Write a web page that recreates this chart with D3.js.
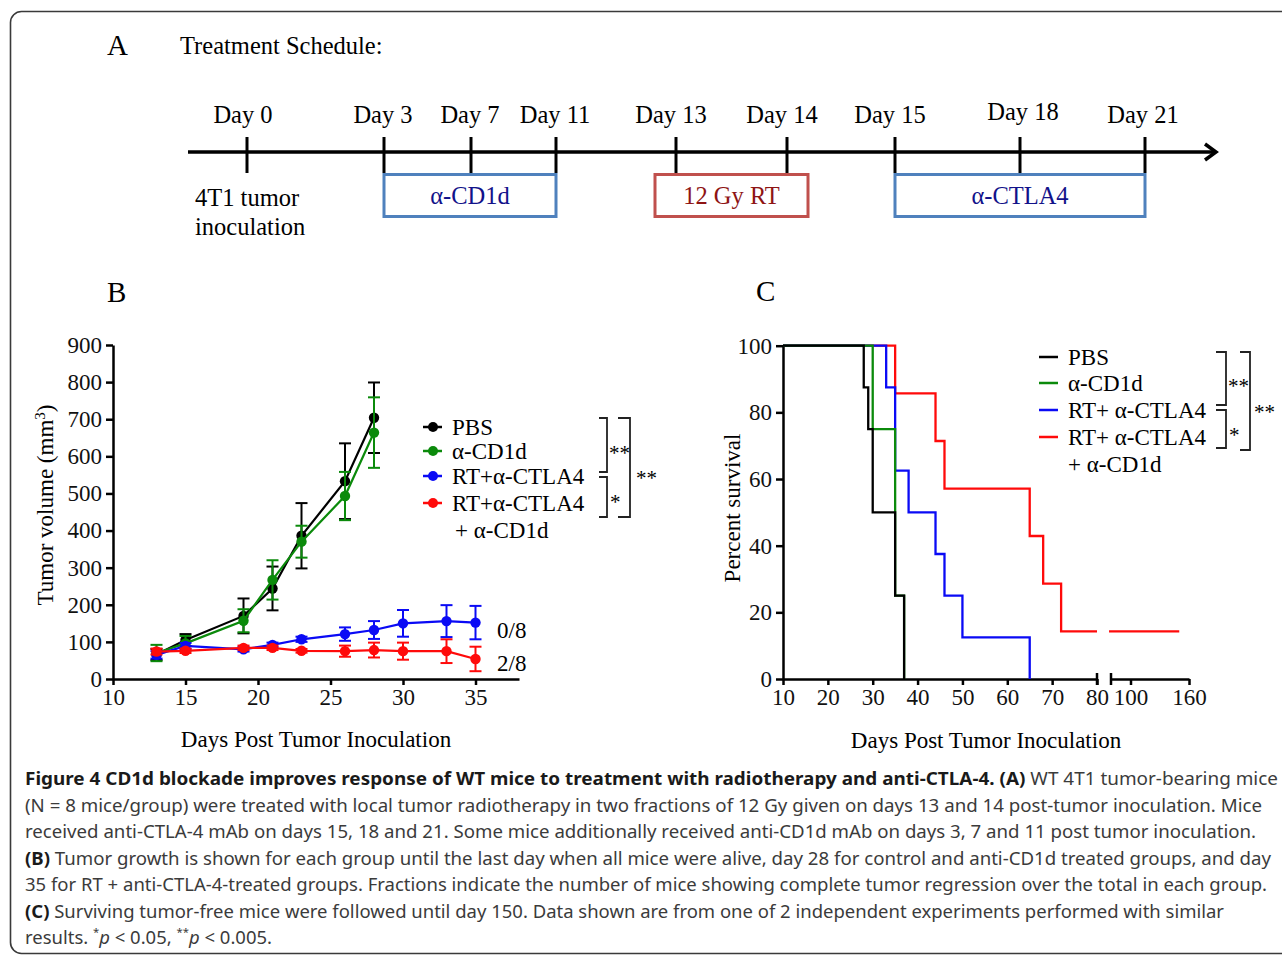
<!DOCTYPE html>
<html><head><meta charset="utf-8">
<script src="https://cdn.jsdelivr.net/npm/d3@7"></script>
<style>
body{margin:0;background:#fff}
svg{display:block}
.serif{font-family:"Liberation Serif","Times New Roman",serif;}
.cap{font-family:"Noto Sans",sans-serif;}
</style>
</head><body>
<svg id="fig" width="1282" height="956"></svg>
<script>
// ---------------- Panel A: treatment schedule ----------------
const scheduleDays   = [0, 3, 7, 11, 13, 14, 15, 18, 21];
const scheduleLabels = ["Day 0","Day 3","Day 7","Day 11","Day 13","Day 14","Day 15","Day 18","Day 21"];
const treatmentNames = ["α-CD1d", "12 Gy RT", "α-CTLA4"];
const treatmentStart = [3, 13, 15];
const treatmentEnd   = [11, 14, 21];

// ---------------- Panel B: tumour growth ----------------
const growthDays       = [13, 15, 19, 21, 23, 26, 28, 30, 33, 35];
const pbsVolume        = [66, 105, 170, 244, 386, 533, 704];
const pbsSem           = [15, 16, 47, 59, 88, 102, 95];
const cd1dVolume       = [70, 96, 157, 267, 370, 493, 664];
const cd1dSem          = [22, 20, 31, 53, 43, 65, 95];
const rtCtla4Volume    = [65, 89, 80, 92, 107, 121, 132, 150, 156, 152];
const rtCtla4Sem       = [10, 8, 6, 6, 7, 18, 24, 36, 43, 45];
const rtCtla4Cd1dVolume= [74, 76, 84, 84, 76, 75, 78, 75, 75, 54];
const rtCtla4Cd1dSem   = [8, 6, 6, 6, 5, 15, 20, 23, 32, 33];
const groupNamesB      = ["PBS", "α-CD1d", "RT+α-CTLA4", "RT+α-CTLA4"];
const regressionFractions = ["0/8", "2/8"];
const volumeTicks      = [0,100,200,300,400,500,600,700,800,900];
const dayTicksB        = [10,15,20,25,30,35];

// ---------------- Panel C: survival ----------------
const pbsSurvDays   = [10, 28, 29, 30, 35, 37];
const pbsSurvPct    = [100, 87.5, 75, 50, 25, 0];
const cd1dSurvDays  = [10, 30, 35, 37];
const cd1dSurvPct   = [100, 75, 25, 0];
const rtSurvDays    = [10, 33, 35, 38, 44, 46, 50, 65];
const rtSurvPct     = [100, 87.5, 62.5, 50, 37.5, 25, 12.5, 0];
const rtCdSurvDays  = [10, 35, 44, 46, 65, 68, 72, 150];
const rtCdSurvPct   = [100, 85.7, 71.4, 57.1, 42.9, 28.6, 14.3, 14.3];
const groupNamesC   = ["PBS", "α-CD1d", "RT+ α-CTLA4", "RT+ α-CTLA4"];
const survTicksY    = [0,20,40,60,80,100];
const survTicksX1   = [10,20,30,40,50,60,70,80];
const survTicksX2   = [100,160];

const colors = {black:"#000000", green:"#0b8a0b", blue:"#0a0af5", red:"#ff0a0a"};
const FS = 23;      // chart text size
const FSA = 24.5;   // schedule text size

const svg = d3.select("#fig");
svg.append("rect").attr("width",1282).attr("height",956).attr("fill","#fff");
// frame
svg.append("rect").attr("x",10.5).attr("y",11.5).attr("width",1300).attr("height",942)
  .attr("rx",11).attr("fill","none").attr("stroke","#3a3a3a").attr("stroke-width",1.6);

// ========== Panel A ==========
const A = svg.append("g").attr("class","serif");
A.append("text").attr("x",107).attr("y",55).attr("font-size",29).text("A");
A.append("text").attr("x",180).attr("y",54).attr("font-size",FSA).text("Treatment Schedule:");

const xA = d3.scaleLinear().domain(scheduleDays).range([247,384,471,556,676,787,895,1020,1145]);
const labelShift = [-4,-1,-1,-1,-5,-5,-5,3,-2];
const lineY = 152;
A.append("line").attr("x1",188).attr("x2",1214).attr("y1",lineY).attr("y2",lineY)
  .attr("stroke","#000").attr("stroke-width",3.5);
A.append("path").attr("d",`M1205,${lineY-8} L1216,${lineY} L1205,${lineY+8}`)
  .attr("fill","none").attr("stroke","#000").attr("stroke-width",3.5);
A.selectAll(".tk").data(scheduleDays).join("line")
  .attr("x1",d=>xA(d)).attr("x2",d=>xA(d)).attr("y1",137).attr("y2",173)
  .attr("stroke","#000").attr("stroke-width",3);
A.selectAll(".dl").data(scheduleDays).join("text")
  .attr("x",(d,i)=>xA(d)+labelShift[i]).attr("y",(d,i)=> i===7 ? 120 : 123)
  .attr("text-anchor","middle").attr("font-size",FSA).text((d,i)=>scheduleLabels[i]);
A.append("text").attr("x",195).attr("y",206).attr("font-size",FSA).text("4T1 tumor");
A.append("text").attr("x",195).attr("y",235).attr("font-size",FSA).text("inoculation");

treatmentNames.forEach((name,i)=>{
  const isRT = name.indexOf("RT")>=0;
  const pad = isRT ? 21 : 0;
  const x0 = xA(treatmentStart[i]) - pad, x1 = xA(treatmentEnd[i]) + pad;
  A.append("rect").attr("x",x0).attr("y",174.5).attr("width",x1-x0).attr("height",42)
    .attr("fill","#fff").attr("stroke", isRT ? "#c0504d" : "#4f81bd").attr("stroke-width",3);
  A.append("text").attr("x",(x0+x1)/2).attr("y",204).attr("text-anchor","middle")
    .attr("font-size",FSA).attr("fill", isRT ? "#8e1414" : "#12128a").text(name);
});

// ========== Panel B ==========
const B = svg.append("g").attr("class","serif");
B.append("text").attr("x",107).attr("y",302).attr("font-size",29).text("B");
const xB = d3.scaleLinear().domain([10,38]).range([113,519]);
const yB = d3.scaleLinear().domain([0,900]).range([679,345]);

function styleAxis(g){
  g.selectAll("path,line").attr("stroke","#000").attr("stroke-width",2.5);
  g.selectAll("text").attr("font-family","Liberation Serif, serif").attr("font-size",FS).attr("fill","#111");
}
B.append("g").attr("transform","translate(113,0)")
  .call(d3.axisLeft(yB).tickValues(volumeTicks).tickSize(7).tickSizeOuter(0).tickPadding(4))
  .call(styleAxis);
B.append("g").attr("transform","translate(0,679)")
  .call(d3.axisBottom(xB).tickValues(dayTicksB).tickSize(6).tickSizeOuter(0).tickPadding(4))
  .call(styleAxis);

B.append("text").attr("transform","translate(53,505) rotate(-90)").attr("text-anchor","middle")
  .attr("font-size",FS).html('Tumor volume (mm<tspan baseline-shift="super" font-size="15">3</tspan>)');
B.append("text").attr("x",316).attr("y",747).attr("text-anchor","middle").attr("font-size",FS)
  .text("Days Post Tumor Inoculation");

const seriesB = [
  {v:pbsVolume, e:pbsSem, c:colors.black},
  {v:cd1dVolume, e:cd1dSem, c:colors.green},
  {v:rtCtla4Volume, e:rtCtla4Sem, c:colors.blue},
  {v:rtCtla4Cd1dVolume, e:rtCtla4Cd1dSem, c:colors.red}
];
const lineB = d3.line().x(d=>xB(d.d)).y(d=>yB(d.v));
seriesB.forEach(s=>{
  const pts = s.v.map((v,i)=>({d:growthDays[i], v, e:s.e[i]}));
  const g = B.append("g");
  g.append("path").attr("d",lineB(pts)).attr("fill","none").attr("stroke",s.c).attr("stroke-width",2.2);
  pts.forEach(p=>{
    const x = xB(p.d), y0 = yB(p.v - p.e), y1 = yB(p.v + p.e);
    g.append("line").attr("x1",x).attr("x2",x).attr("y1",y0).attr("y2",y1).attr("stroke",s.c).attr("stroke-width",2);
    [y0,y1].forEach(y=> g.append("line").attr("x1",x-6).attr("x2",x+6).attr("y1",y).attr("y2",y)
      .attr("stroke",s.c).attr("stroke-width",2));
  });
  g.selectAll("circle").data(pts).join("circle").attr("cx",d=>xB(d.d)).attr("cy",d=>yB(d.v))
    .attr("r",5.2).attr("fill",s.c);
});
// fractions
B.append("text").attr("x",497).attr("y",yB(rtCtla4Volume[9])+15).attr("font-size",FS).text(regressionFractions[0]);
B.append("text").attr("x",497).attr("y",yB(rtCtla4Cd1dVolume[9])+12).attr("font-size",FS).text(regressionFractions[1]);

// legend B
const legBy = [427, 451, 476, 503];
seriesB.forEach((s,i)=>{
  B.append("line").attr("x1",423).attr("x2",442).attr("y1",legBy[i]).attr("y2",legBy[i])
    .attr("stroke",s.c).attr("stroke-width",2.5);
  B.append("circle").attr("cx",433).attr("cy",legBy[i]).attr("r",5).attr("fill",s.c);
  B.append("text").attr("x",452).attr("y",legBy[i]+8).attr("font-size",FS).text(groupNamesB[i]);
});
B.append("text").attr("x",455).attr("y",538).attr("font-size",FS).text("+ α-CD1d");
function bracket(g, x, y0, y1, w){
  g.append("path").attr("d",`M${x-w},${y0} H${x} V${y1} H${x-w}`).attr("fill","none")
   .attr("stroke","#222").attr("stroke-width",1.8);
}
bracket(B, 607, 418, 472, 8);
bracket(B, 607, 477, 517, 8);
bracket(B, 630, 418, 517, 12);
B.append("text").attr("x",609).attr("y",460).attr("font-size",21).text("**");
B.append("text").attr("x",610).attr("y",509).attr("font-size",21).text("*");
B.append("text").attr("x",636).attr("y",485).attr("font-size",21).text("**");

// ========== Panel C ==========
const C = svg.append("g").attr("class","serif");
C.append("text").attr("x",756).attr("y",301).attr("font-size",29).text("C");
const yC = d3.scaleLinear().domain([0,100]).range([679,345.7]);
const xC1 = d3.scaleLinear().domain([10,80]).range([783,1097]);
const xC2 = d3.scaleLinear().domain([80,160]).range([1111,1189]);

C.append("g").attr("transform","translate(783,0)")
  .call(d3.axisLeft(yC).tickValues(survTicksY).tickSize(7).tickSizeOuter(0).tickPadding(4))
  .call(styleAxis);
C.append("g").attr("transform","translate(0,679)")
  .call(d3.axisBottom(xC1).tickValues(survTicksX1).tickSize(6).tickSizeOuter(0).tickPadding(4))
  .call(styleAxis);
C.append("g").attr("transform","translate(0,679)")
  .call(d3.axisBottom(xC2).tickValues(survTicksX2).tickSize(6).tickSizeOuter(0).tickPadding(4))
  .call(styleAxis);
// break caps
[xC1(80), xC2(80)].forEach(x=> C.append("line").attr("x1",x).attr("x2",x).attr("y1",673).attr("y2",685)
  .attr("stroke","#000").attr("stroke-width",2.5));

C.append("text").attr("transform","translate(740,508) rotate(-90)").attr("text-anchor","middle")
  .attr("font-size",FS).text("Percent survival");
C.append("text").attr("x",986).attr("y",748).attr("text-anchor","middle").attr("font-size",FS)
  .text("Days Post Tumor Inoculation");

const seriesC = [
  {t:rtCdSurvDays, p:rtCdSurvPct, c:colors.red},
  {t:rtSurvDays, p:rtSurvPct, c:colors.blue},
  {t:cd1dSurvDays, p:cd1dSurvPct, c:colors.green},
  {t:pbsSurvDays, p:pbsSurvPct, c:colors.black}
];
const stepLine = (xs)=> d3.line().x(d=>xs(d[0])).y(d=>yC(d[1])).curve(d3.curveStepAfter);
seriesC.forEach(s=>{
  const pts = s.t.map((t,i)=>[t, s.p[i]]);
  const seg1 = pts.filter(d=>d[0]<=80);
  const seg2 = pts.filter(d=>d[0]>80);
  if (seg2.length){
    const lastP = seg1[seg1.length-1][1];
    seg1.push([80, lastP]);
    seg2.unshift([78, lastP]);
    C.append("path").attr("d",stepLine(xC2)(seg2)).attr("fill","none").attr("stroke",s.c).attr("stroke-width",2.3);
  }
  C.append("path").attr("d",stepLine(xC1)(seg1)).attr("fill","none").attr("stroke",s.c).attr("stroke-width",2.3);
});

// legend C
const legCy = [357, 383, 410, 437];
const legColors = [colors.black, colors.green, colors.blue, colors.red];
legColors.forEach((c,i)=>{
  C.append("line").attr("x1",1039).attr("x2",1058).attr("y1",legCy[i]).attr("y2",legCy[i])
    .attr("stroke",c).attr("stroke-width",2.5);
  C.append("text").attr("x",1068).attr("y",legCy[i]+8).attr("font-size",FS).text(groupNamesC[i]);
});
C.append("text").attr("x",1068).attr("y",472).attr("font-size",FS).text("+ α-CD1d");
bracket(C, 1226, 352, 405, 10);
bracket(C, 1226, 410, 448, 10);
bracket(C, 1250, 352, 450, 10);
C.append("text").attr("x",1228).attr("y",393).attr("font-size",21).text("**");
C.append("text").attr("x",1229).attr("y",442).attr("font-size",21).text("*");
C.append("text").attr("x",1254).attr("y",419).attr("font-size",21).text("**");

// ========== Caption ==========
const cap = svg.append("g").attr("class","cap").attr("font-size",18).attr("fill","#3b3b3b");
const capLines = [
  {b:"Figure 4 CD1d blockade improves response of WT mice to treatment with radiotherapy and anti-CTLA-4. (A)", t:" WT 4T1 tumor-bearing mice", w:1253},
  {b:"", t:"(N = 8 mice/group) were treated with local tumor radiotherapy in two fractions of 12 Gy given on days 13 and 14 post-tumor inoculation. Mice", w:1237},
  {b:"", t:"received anti-CTLA-4 mAb on days 15, 18 and 21. Some mice additionally received anti-CD1d mAb on days 3, 7 and 11 post tumor inoculation.", w:1231},
  {b:"(B)", t:" Tumor growth is shown for each group until the last day when all mice were alive, day 28 for control and anti-CD1d treated groups, and day", w:1246},
  {b:"", t:"35 for RT + anti-CTLA-4-treated groups. Fractions indicate the number of mice showing complete tumor regression over the total in each group.", w:1242},
  {b:"(C)", t:" Surviving tumor-free mice were followed until day 150. Data shown are from one of 2 independent experiments performed with similar", w:1199}
];
capLines.forEach((l,i)=>{
  const t = cap.append("text").attr("x",25).attr("y",785 + i*26.5)
    .attr("textLength",l.w).attr("lengthAdjust","spacingAndGlyphs");
  if (l.b) t.append("tspan").attr("font-weight","bold").attr("fill","#1a1a1a").text(l.b);
  t.append("tspan").text(l.t);
});
const last = cap.append("text").attr("x",25).attr("y",785+6*26.5).attr("textLength",247).attr("lengthAdjust","spacingAndGlyphs");
last.append("tspan").text("results. ");
last.append("tspan").attr("font-size",11).attr("dy",-8).text("*");
last.append("tspan").attr("font-style","italic").attr("dy",8).text("p");
last.append("tspan").text(" < 0.05, ");
last.append("tspan").attr("font-size",11).attr("dy",-8).text("**");
last.append("tspan").attr("font-style","italic").attr("dy",8).text("p");
last.append("tspan").text(" < 0.005.");
</script>
</body></html>
